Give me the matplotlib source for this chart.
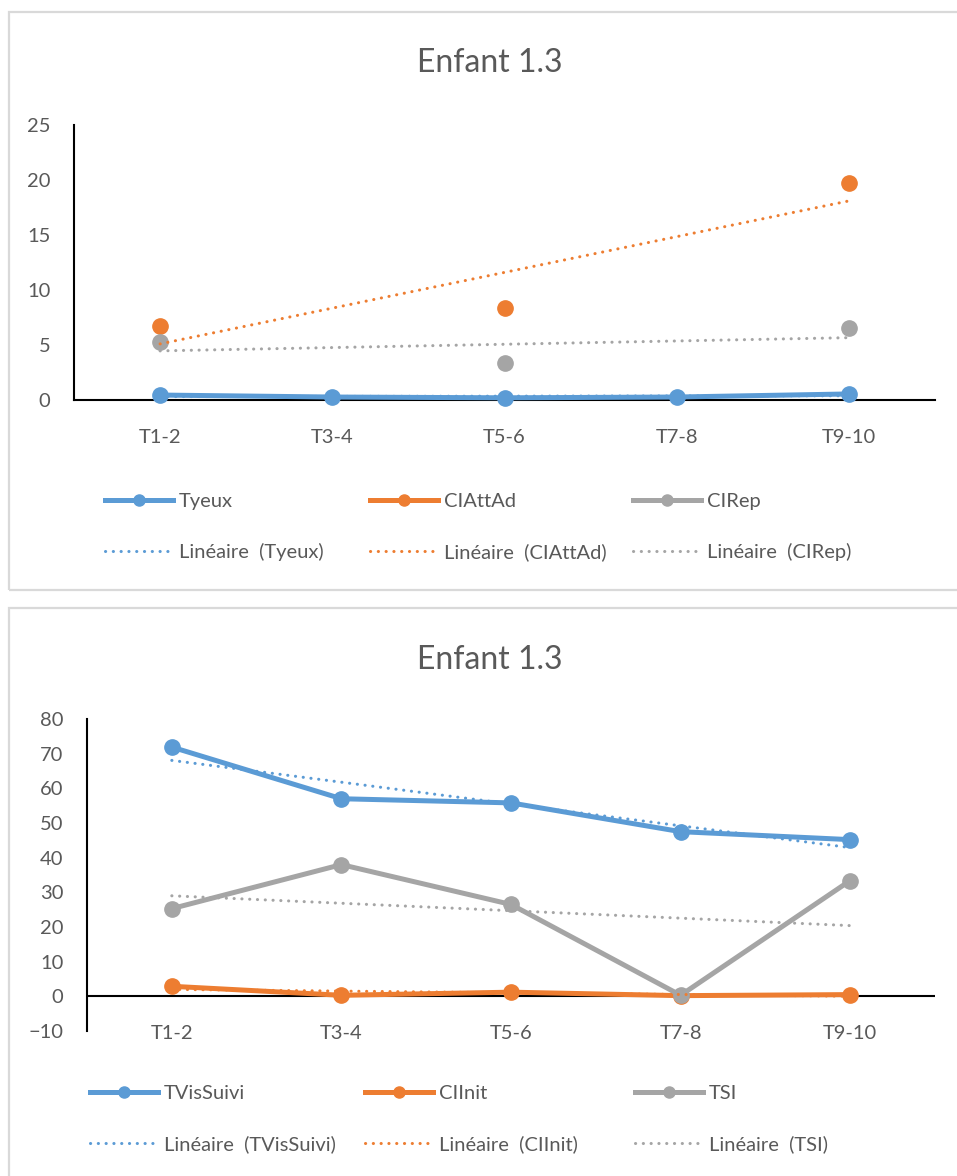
import numpy as np
import matplotlib.pyplot as plt
from matplotlib.patches import Rectangle
from matplotlib.lines import Line2D

plt.rcParams['font.family'] = ['Lato', 'DejaVu Sans']

periods = ["T1-2", "T3-4", "T5-6", "T7-8", "T9-10"]

# chart 1
tyeux = [0.45, 0.27, 0.2, 0.27, 0.55]
ciattad = [6.7, np.nan, 8.4, np.nan, 19.7]
cirep = [5.3, np.nan, 3.4, np.nan, 6.5]

# chart 2
tvissuivi = [71.9, 57.0, 55.8, 47.5, 45.2]
ciinit = [2.9, 0.3, 1.2, 0.2, 0.5]
tsi = [25.3, 38.0, 26.5, 0.3, 33.4]

colors = ["#5B9BD5", "#ED7D31", "#A5A5A5"]
text_col = "#595959"
dots = (0.05, 2.5)

W, H = 957, 1176
def fx(px): return px / W
def fy(py): return 1 - py / H

fig = plt.figure(figsize=(W / 100, H / 100), dpi=100)

# panel frames
fig.patches.append(Rectangle((fx(9), fy(590)), 1.0, fy(12) - fy(590), transform=fig.transFigure,
                             fill=False, ec="#D9D9D9", lw=1.6))
fig.patches.append(Rectangle((fx(9), -0.1), 1.0, fy(608) + 0.1, transform=fig.transFigure,
                             fill=False, ec="#D9D9D9", lw=1.6))


def trend(vals):
    v = np.array(vals, float)
    x = np.arange(1, len(v) + 1)
    m = ~np.isnan(v)
    p = np.polyfit(x[m], v[m], 1)
    return np.polyval(p, x)


def draw(ax, data, ylim, yticks, zero_line):
    x = np.arange(len(periods))
    for vals, col in zip(data, colors):
        ax.plot(x, np.array(vals, float), color=col, lw=3.6, marker="o", ms=11,
                solid_capstyle="round", zorder=3, clip_on=False)
    for vals, col in zip(data, colors):
        ax.plot(x, trend(vals), color=col, lw=2.2, dashes=dots, dash_capstyle="round",
                zorder=4, clip_on=False)
    ax.set_xlim(-0.5, len(periods) - 0.5)
    ax.set_ylim(*ylim)
    ax.set_yticks(yticks)
    ax.set_xticks(x)
    ax.set_xticklabels(periods)
    for s in ["top", "right"]:
        ax.spines[s].set_visible(False)
    ax.spines["left"].set_linewidth(1.5)
    if zero_line:
        ax.spines["bottom"].set_visible(False)
        ax.axhline(0, color="black", lw=1.5, zorder=2)
    else:
        ax.spines["bottom"].set_linewidth(1.5)
        ax.spines["bottom"].set_zorder(2)
    ax.tick_params(length=0, labelsize=14.5, colors=text_col)
    ax.tick_params(axis="y", pad=17)


def legend_cols(names, lefts, top_px):
    for name, col, left in zip(names, colors, lefts):
        h1 = Line2D([], [], color=col, lw=3.6, marker="o", ms=8)
        h2 = Line2D([], [], color=col, lw=2.2, dashes=dots, dash_capstyle="round")
        fig.legend([h1, h2], [name, "Linéaire  (%s)" % name], loc="upper left",
                   bbox_to_anchor=(fx(left), fy(top_px)), bbox_transform=fig.transFigure,
                   frameon=False, borderpad=0, borderaxespad=0, handlelength=3.4,
                   handletextpad=0.25, labelspacing=1.65, fontsize=14.5, labelcolor=text_col)


ax1 = fig.add_axes([fx(74), fy(400), fx(935) - fx(74), fy(125) - fy(400)])
draw(ax1, [tyeux, ciattad, cirep], (0, 25), range(0, 26, 5), False)
ax1.tick_params(axis="x", pad=21)
fig.text(fx(490), fy(63), "Enfant 1.3", ha="center", va="center", fontsize=23, color=text_col)
legend_cols(["Tyeux", "CIAttAd", "CIRep"], [105, 370, 633], 493)

ax2 = fig.add_axes([fx(87), fy(1031), fx(935) - fx(87), fy(719) - fy(1031)])
draw(ax2, [tvissuivi, ciinit, tsi], (-10, 80), range(-10, 81, 10), True)
ax2.tick_params(axis="x", pad=-4)
fig.text(fx(490), fy(660), "Enfant 1.3", ha="center", va="center", fontsize=23, color=text_col)
legend_cols(["TVisSuivi", "CIInit", "TSI"], [90, 365, 635], 1085)

fig.savefig("out.png", dpi=100)
